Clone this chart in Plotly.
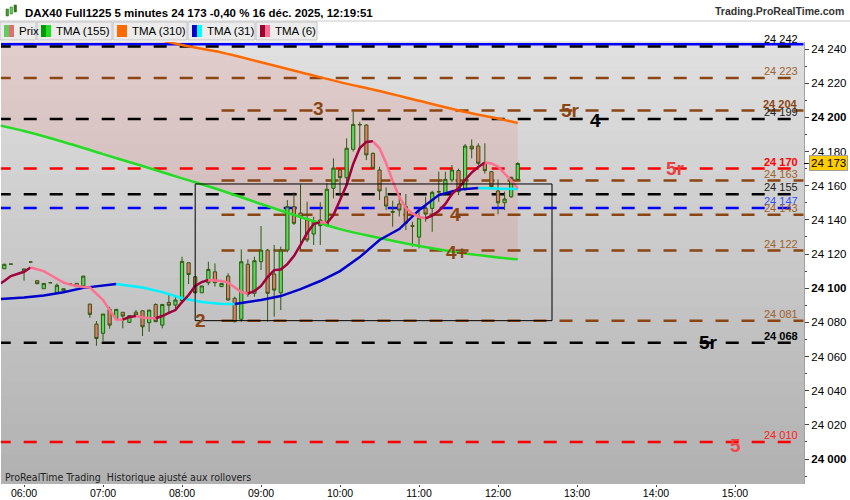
import plotly.graph_objects as go

DAY = '2025-12-16 '

# ---- candles (5 min) ----
times = ['05:45', '05:50', '06:00', '06:05', '06:10', '06:15', '06:20', '06:25', '06:30', '06:35',
         '06:40', '06:45', '06:50', '06:55', '07:00', '07:05', '07:10', '07:15', '07:20', '07:25',
         '07:30', '07:35', '07:40', '07:45', '07:50', '07:55', '08:00', '08:05', '08:10', '08:15',
         '08:20', '08:25', '08:30', '08:35', '08:40', '08:45', '08:50', '08:55', '09:00', '09:05',
         '09:10', '09:15', '09:20', '09:25', '09:30', '09:35', '09:40', '09:45', '09:50', '09:55',
         '10:00', '10:05', '10:10', '10:15', '10:20', '10:25', '10:30', '10:35', '10:40', '10:45',
         '10:50', '10:55', '11:00', '11:05', '11:10', '11:15', '11:20', '11:25', '11:30', '11:35',
         '11:40', '11:45', '11:50', '11:55', '12:00', '12:05', '12:10', '12:15']
opens = [24111.4, 24114.1, 24109.9, 24115.3, 24104.4, 24099.7, 24103.2, 24097.3, 24098.5, 24102.5,
         24102.8, 24101.3, 24090.7, 24079.0, 24073.6, 24087.6, 24082.4, 24085.9, 24080.0, 24086.0,
         24086.8, 24079.8, 24090.5, 24078.4, 24091.7, 24090.1, 24092.7, 24114.9, 24106.7, 24097.3,
         24103.2, 24109.6, 24100.9, 24107.1, 24094.1, 24081.8, 24114.0, 24097.0, 24115.5, 24122.3,
         24108.3, 24097.3, 24122.3, 24147.7, 24144.0, 24139.9, 24131.7, 24139.9, 24137.0, 24158.5,
         24169.2, 24164.7, 24181.3, 24195.5, 24195.5, 24178.9, 24169.2, 24153.5, 24145.0, 24149.3,
         24147.7, 24136.6, 24129.9, 24146.7, 24146.7, 24156.3, 24155.5, 24163.3, 24168.8, 24158.4,
         24183.2, 24183.2, 24173.4, 24168.2, 24156.9, 24150.0, 24153.5, 24163.7]
highs = [24114.3, 24114.1, 24111.3, 24115.3, 24104.4, 24102.8, 24103.2, 24102.8, 24099.7, 24102.5,
         24102.8, 24107.1, 24090.7, 24080.8, 24084.9, 24089.1, 24087.6, 24085.9, 24083.9, 24087.2,
         24086.8, 24087.2, 24091.1, 24090.5, 24097.0, 24095.0, 24118.4, 24114.9, 24107.1, 24101.3,
         24115.5, 24114.5, 24102.8, 24108.7, 24095.0, 24122.7, 24116.9, 24118.4, 24136.4, 24123.0,
         24125.3, 24124.3, 24151.6, 24156.1, 24160.8, 24150.6, 24141.8, 24150.3, 24161.4, 24176.0,
         24170.0, 24187.7, 24203.3, 24197.4, 24196.0, 24179.5, 24171.1, 24159.0, 24151.2, 24155.5,
         24155.1, 24138.9, 24147.3, 24153.5, 24157.0, 24168.2, 24168.2, 24172.1, 24170.0, 24184.4,
         24187.1, 24184.8, 24184.8, 24168.5, 24163.7, 24156.5, 24165.2, 24173.7]
lows = [24111.2, 24114.1, 24104.4, 24115.3, 24102.6, 24099.7, 24103.2, 24097.3, 24098.5, 24102.5,
        24100.9, 24101.3, 24082.7, 24066.3, 24069.2, 24076.3, 24082.4, 24076.5, 24080.0, 24084.3,
        24072.0, 24074.5, 24080.4, 24076.5, 24085.3, 24088.2, 24091.1, 24102.4, 24097.0, 24097.3,
        24101.8, 24100.9, 24100.9, 24092.7, 24080.0, 24080.4, 24095.0, 24095.0, 24110.6, 24080.4,
        24083.3, 24087.2, 24121.0, 24137.0, 24122.3, 24127.0, 24125.3, 24125.3, 24136.0, 24152.6,
        24153.5, 24161.4, 24180.0, 24180.9, 24175.0, 24170.0, 24151.6, 24145.7, 24136.0, 24142.0,
        24134.0, 24124.3, 24123.3, 24138.9, 24133.0, 24150.6, 24154.0, 24162.0, 24154.5, 24157.0,
        24176.0, 24172.0, 24167.0, 24157.9, 24143.2, 24145.7, 24153.0, 24163.0]
closes = [24114.0, 24114.1, 24111.3, 24115.3, 24102.6, 24102.8, 24103.2, 24101.7, 24099.7, 24102.5,
          24100.9, 24107.1, 24084.7, 24070.6, 24084.9, 24078.4, 24087.6, 24083.7, 24083.9, 24084.3,
          24077.4, 24087.2, 24080.4, 24090.5, 24090.0, 24093.1, 24115.7, 24108.0, 24097.3, 24101.3,
          24111.0, 24103.2, 24102.8, 24093.1, 24080.4, 24115.5, 24096.6, 24116.1, 24122.3, 24097.0,
          24098.9, 24122.3, 24147.7, 24138.0, 24141.7, 24128.2, 24139.3, 24136.6, 24157.9, 24170.3,
          24164.7, 24181.9, 24195.9, 24195.8, 24178.0, 24170.2, 24156.9, 24148.1, 24144.5, 24145.7,
          24138.0, 24136.3, 24141.1, 24143.4, 24156.1, 24156.5, 24163.7, 24169.2, 24156.5, 24183.2,
          24181.5, 24173.1, 24168.8, 24159.4, 24150.0, 24152.2, 24164.9, 24173.0]

# ---- moving averages ----
tma155_t = ['05:40', '06:00', '06:30', '07:00', '07:30', '08:00', '08:30', '09:00', '09:30', '10:00',
            '10:30', '11:00', '11:30', '12:00', '12:15']
tma155_v = [24195.5, 24192.0, 24185.6, 24178.5, 24171.5, 24164.3, 24157.2, 24149.3, 24141.7, 24134.6,
            24129.4, 24124.7, 24120.9, 24118.0, 24116.9]

tma310_t = ['05:40', '06:30', '07:00', '07:30', '08:00', '08:30', '09:00', '09:30', '10:00', '10:30',
            '11:00', '11:30', '12:00', '12:15']
tma310_v = [24265.5, 24257.0, 24252.5, 24247.6, 24242.3, 24238.0, 24232.2, 24226.4, 24220.6, 24215.4,
            24209.7, 24204.0, 24199.3, 24196.7]

tma31_t = ['05:40', '06:00', '06:15', '06:30', '06:45', '07:00', '07:10', '07:30', '07:45', '08:00',
           '08:15', '08:30', '08:40', '08:50', '09:00', '09:15', '09:30', '09:45', '10:00', '10:15',
           '10:30', '10:45', '11:00', '11:15', '11:30', '11:45', '12:00', '12:15']
tma31_v = [24093.5, 24094.5, 24095.7, 24097.6, 24100.2, 24101.6, 24102.4, 24100.4, 24097.7, 24094.1,
           24091.9, 24090.8, 24090.7, 24091.9, 24093.1, 24095.4, 24099.5, 24104.2, 24110.0, 24118.2,
           24128.2, 24134.6, 24145.7, 24154.5, 24157.7, 24158.6, 24158.4, 24158.0]

tma6_t = ['05:42'] + times
tma6_v = [24102.8, 24104.2, 24107.1, 24109.6, 24112.1, 24111.2, 24110.0, 24107.7, 24105.4, 24103.3,
          24102.1, 24101.3, 24100.7, 24100.5, 24096.6, 24093.1, 24087.2, 24081.7, 24081.6, 24083.1,
          24083.7, 24082.8, 24082.5, 24082.4, 24083.7, 24085.5, 24087.2, 24091.9, 24096.0, 24101.3,
          24103.6, 24104.8, 24104.5, 24104.2, 24103.3, 24100.7, 24097.7, 24096.9, 24098.3, 24101.3,
          24106.5, 24110.6, 24110.9, 24114.1, 24118.8, 24125.3, 24132.3, 24137.6, 24138.7, 24138.1,
          24142.8, 24151.6, 24160.4, 24172.7, 24182.0, 24185.6, 24186.0, 24181.9, 24173.3, 24162.7,
          24153.4, 24146.9, 24143.8, 24141.7, 24140.9, 24142.5, 24145.2, 24149.3, 24155.1, 24158.5,
          24163.3, 24167.7, 24170.9, 24173.6, 24173.0, 24171.2, 24167.4, 24163.0, 24158.5]

# ---- horizontal levels ----
levels = [24242, 24223, 24204, 24199, 24170, 24163, 24155, 24147, 24143, 24122, 24081, 24068, 24010]
level_start = [None, None, '08:30', None, None, '08:30', None, None, '08:30', '08:30', '08:30', None, None]

tags = ['4+', '5r', '4', '3', '5r', '4', '4+', '2', '5r', '5']
tag_t = ['13:16', '12:55', '13:14', '09:44', '14:15', '11:28', '11:29', '08:14', '14:40', '15:00']
tag_p = [24244.5, 24204, 24198, 24205, 24170, 24143, 24121, 24081, 24068, 24008]

box_t = ['08:10', '12:41']
box_p = [24081, 24161]

last_price = 24173
ytick_vals = list(range(24000, 24241, 20))

# ---- styles ----
BROWN = '#8b4513'
LEVEL_STYLE = {
    24242: ('black', 'black', False), 24223: (BROWN, '#a0622d', False), 24204: (BROWN, BROWN, True),
    24199: ('black', '#222', False), 24170: ('#ff0000', '#ff0000', True), 24163: (BROWN, '#a0622d', False),
    24155: ('black', '#222', False), 24147: ('#0000ff', '#3050ff', False), 24143: (BROWN, '#a0622d', False),
    24122: (BROWN, '#a0622d', False), 24081: (BROWN, '#a0622d', False), 24068: ('black', 'black', True),
    24010: ('#ff0000', '#ff2020', False),
}
TAG_COLORS = ['black', BROWN, 'black', BROWN, '#e84040', BROWN, BROWN, BROWN, 'black', '#f04848']

FONT = 'Liberation Sans'
W, H = 850, 500
L, R, T, B = 1, 46, 42, 16
PW, PH = W - L - R, H - T - B


def px(x):
    return (x - L) / PW


def py(y):
    return (H - B - y) / PH


def ts(t):
    return DAY + t


def pts(t):
    return (DAY + t).replace(' ', '_')


fig = go.Figure()

# background gradient (plot area)
shapes = []
n = 30
for i in range(n):
    c = int(224 - (224 - 178) * i / (n - 1))
    shapes.append(dict(type='rect', xref='paper', yref='paper', x0=0, x1=1,
                       y0=1 - (i + 1) / n, y1=1 - i / n + 0.001, layer='below',
                       line=dict(width=0), fillcolor=f'rgb({c},{c},{c})'))

# pink cloud between TMA(310) and TMA(155)
path = 'M ' + ' L '.join(f'{pts(t)},{v}' for t, v in zip(tma310_t, tma310_v))
path += ' L ' + ' L '.join(f'{pts(t)},{v}' for t, v in zip(tma155_t[::-1], tma155_v[::-1])) + ' Z'
shapes.append(dict(type='path', xref='x', yref='y', path=path, layer='below',
                   line=dict(width=0), fillcolor='rgba(235,110,110,0.17)'))

# levels
x_end = DAY + '15:52'
for v, st in zip(levels, level_start):
    lc = LEVEL_STYLE[v][0]
    x0 = ts(st) if st else DAY + '05:40'
    if v == 24242:
        shapes.append(dict(type='line', xref='x', yref='y', x0=x0, x1=x_end, y0=v + 0.8, y1=v + 0.8,
                           layer='below', line=dict(color='#0000ff', width=2.5)))
        shapes.append(dict(type='line', xref='x', yref='y', x0=x0, x1=x_end, y0=v - 0.6, y1=v - 0.6,
                           layer='below', line=dict(color='black', width=2.5, dash='13px,13px')))
        continue
    shapes.append(dict(type='line', xref='x', yref='y', x0=x0, x1=x_end, y0=v, y1=v,
                       layer='below', line=dict(color=lc, width=2.5, dash='13px,13px')))

# box
shapes.append(dict(type='rect', xref='x', yref='y', x0=ts(box_t[0]), x1=ts(box_t[1]),
                   y0=box_p[0], y1=box_p[1], line=dict(color='black', width=1), layer='above'))

# candles
fig.add_trace(go.Candlestick(
    x=[ts(t) for t in times], open=opens, high=highs, low=lows, close=closes,
    increasing=dict(fillcolor='#5ad85a', line=dict(color='#2d5a0e', width=1)),
    decreasing=dict(fillcolor='#e6786c', line=dict(color='#2d5a0e', width=1)),
    whiskerwidth=0, showlegend=False, hoverinfo='skip'))


def add_colored(tt, vv, up, down, width):
    # split line into rising / falling runs
    seg_x, seg_y, cur = [ts(tt[0])], [vv[0]], None
    for i in range(1, len(vv)):
        d = up if vv[i] >= vv[i - 1] else down
        if cur is not None and d != cur:
            fig.add_trace(go.Scatter(x=seg_x, y=seg_y, mode='lines', line=dict(color=cur, width=width),
                                     showlegend=False, hoverinfo='skip'))
            seg_x, seg_y = [seg_x[-1]], [seg_y[-1]]
        cur = d
        seg_x.append(ts(tt[i]))
        seg_y.append(vv[i])
    fig.add_trace(go.Scatter(x=seg_x, y=seg_y, mode='lines', line=dict(color=cur, width=width),
                             showlegend=False, hoverinfo='skip'))


fig.add_trace(go.Scatter(x=[ts(t) for t in tma310_t], y=tma310_v, mode='lines',
                         line=dict(color='#ff6a00', width=2.5, shape='spline'), showlegend=False, hoverinfo='skip'))
fig.add_trace(go.Scatter(x=[ts(t) for t in tma155_t], y=tma155_v, mode='lines',
                         line=dict(color='#22dd22', width=2.5, shape='spline'), showlegend=False, hoverinfo='skip'))
add_colored(tma31_t, tma31_v, '#0000cc', '#00f0ff', 2.5)
add_colored(tma6_t, tma6_v, '#a0003c', '#ff7090', 2.5)

ann = []
# level value labels on the right of the plot
for v in levels:
    _, tc, bold = LEVEL_STYLE[v]
    txt = f'{v:,}'.replace(',', ' ')
    ann.append(dict(xref='paper', yref='y', x=px(800), y=v, xanchor='right', yanchor='bottom',
                    text=f'<b>{txt}</b>' if bold else txt, showarrow=False, yshift=-1,
                    font=dict(family=FONT, size=11, color=tc)))
# wave tags
for t, p, c, col in zip(tags, tag_p, tag_t, TAG_COLORS):
    ann.append(dict(xref='x', yref='y', x=ts(c), y=p, text=f'<b>{t}</b>', showarrow=False,
                    xanchor='center', yanchor='middle', font=dict(family=FONT, size=19, color=col)))

# current price
ann.append(dict(xref='paper', yref='y', x=1, y=last_price, xanchor='left', yanchor='middle', xshift=5,
                text=f'{last_price:,}'.replace(',', ' '), showarrow=False, bgcolor='#ffcc00',
                bordercolor='#a0a0a0', borderwidth=1, borderpad=1,
                font=dict(family=FONT, size=11.5, color='black')))
shapes.append(dict(type='line', xref='paper', yref='y', x0=1, x1=1.006, y0=last_price, y1=last_price,
                   line=dict(color='black', width=1)))

# header
shapes.append(dict(type='line', xref='paper', yref='paper', x0=px(0), x1=px(850), y0=py(21), y1=py(21),
                   line=dict(color='#c8c8c8', width=1)))
for i, c in enumerate(['#4a9a3a', '#5ad85a', '#2d7a1e']):
    shapes.append(dict(type='rect', xref='paper', yref='paper', x0=px(6 + 4 * i), x1=px(8.5 + 4 * i),
                       y0=py(16 - 2 * i), y1=py(9 - 2 * i), line=dict(color='#2d5a0e', width=0.5),
                       fillcolor=c))
ann.append(dict(xref='paper', yref='paper', x=px(23), y=py(12.5), xanchor='left', yanchor='middle',
                text='<b>DAX40 Full1225 5 minutes 24 173 -0,40 % 16 déc. 2025, 12:19:51</b>',
                showarrow=False, font=dict(family=FONT, size=11.5, color='black')))
ann.append(dict(xref='paper', yref='paper', x=px(846), y=py(11), xanchor='right', yanchor='middle',
                text='<b>Trading.ProRealTime.com</b>', showarrow=False,
                font=dict(family=FONT, size=10.5, color='#333')))

legend_items = ['Prix', 'TMA (155)', 'TMA (310)', 'TMA (31)', 'TMA (6)']
tab_edges = [0, 37, 113, 188, 256, 318]
icon_cols = [('#5ece5e', '#e07070'), ('#009900', '#22dd22'), ('#ff6a00', '#ff6a00'),
             ('#0000cc', '#00ffff'), ('#990033', '#ff6f91')]
for i, name in enumerate(legend_items):
    a, b = tab_edges[i], tab_edges[i + 1]
    shapes.append(dict(type='rect', xref='paper', yref='paper', x0=px(a), x1=px(b - 1), y0=py(40), y1=py(22),
                       line=dict(color='#c4c4c4', width=1), fillcolor='#ececec'))
    shapes.append(dict(type='rect', xref='paper', yref='paper', x0=px(a + 4), x1=px(a + 9), y0=py(37), y1=py(25),
                       line=dict(width=0), fillcolor=icon_cols[i][0]))
    shapes.append(dict(type='rect', xref='paper', yref='paper', x0=px(a + 9), x1=px(a + 14), y0=py(37), y1=py(25),
                       line=dict(width=0), fillcolor=icon_cols[i][1]))
    ann.append(dict(xref='paper', yref='paper', x=px(a + 17), y=py(31), xanchor='left', yanchor='middle',
                    text=name, showarrow=False, font=dict(family=FONT, size=11.5, color='black')))

# footer
ann.append(dict(xref='paper', yref='paper', x=px(3), y=py(477), xanchor='left', yanchor='middle',
                text='ProRealTime Trading  Historique ajusté aux rollovers', showarrow=False,
                font=dict(family='Liberation Sans Narrow, DejaVu Sans Condensed, Liberation Sans',
                          size=10.5, color='#222')))

fig.update_layout(
    width=W, height=H, margin=dict(l=L, r=R, t=T, b=B, autoexpand=False),
    paper_bgcolor='white', plot_bgcolor='#d0d0d0',
    separators=', ', shapes=shapes, annotations=ann, showlegend=False,
    font=dict(family=FONT, size=11, color='black'),
    xaxis=dict(type='date', range=[DAY + '05:42:30', DAY + '15:52:24'], rangeslider=dict(visible=False),
               tickformat='%H:%M', dtick=3600000, tick0=DAY + '06:00', ticks='outside', ticklen=2,
               tickcolor='#444', showgrid=False, zeroline=False, showline=False, automargin=False,
               ticklabelstandoff=-3, tickfont=dict(family=FONT, size=10.5)),
    yaxis=dict(side='right', range=[23985.4, 24244.1], tickmode='array', tickvals=ytick_vals,
               ticktext=[(f'<b>{v:,}</b>' if v % 100 == 0 else f'{v:,}').replace(',', ' ') for v in ytick_vals],
               ticks='outside', ticklen=4, tickcolor='#444', showgrid=False, zeroline=False,
               showline=True, linecolor='#a0a0a0', tickfont=dict(family=FONT, size=11.5), automargin=False,
               minor=dict(tickmode='linear', tick0=24000, dtick=10, ticks='outside', ticklen=2,
                          tickcolor='#444')),
)

# the page body has a default 8px margin; drop it so the figure fills the window
fig.write_html('out.html', config={'displayModeBar': False},
               post_script="document.body.style.margin='0';")
